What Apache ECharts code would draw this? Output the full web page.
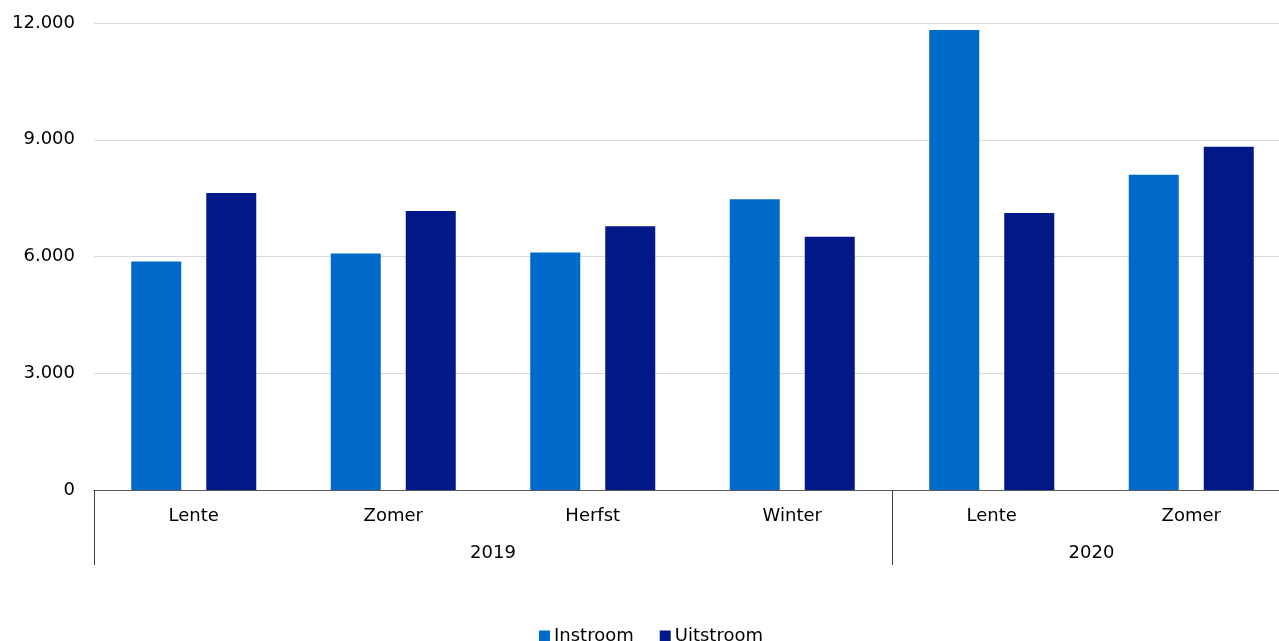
<!DOCTYPE html>
<html>
<head>
<meta charset="utf-8">
<script src="https://cdn.jsdelivr.net/npm/echarts@6/dist/echarts.min.js"></script>
<style>
html,body{margin:0;padding:0;background:#fff;}
#chart{width:1279px;height:641px;}
</style>
</head>
<body>
<div id="chart"></div>
<script>
const seasons = ['Lente', 'Zomer', 'Herfst', 'Winter', 'Lente', 'Zomer'];
const years = ['2019', '2020'];
const yearSpans = [4, 2];
const instroom = [5870, 6080, 6100, 7470, 11820, 8100];
const uitstroom = [7630, 7170, 6780, 6510, 7120, 8820];
const yTicks = [0, 3000, 6000, 9000, 12000];

// build the half-category slots for the year axis (boundaries and centres)
const yearSlots = [];
const yearBoundaries = [0];
let pos = 0;
years.forEach((y, i) => {
  pos += yearSpans[i];
  yearBoundaries.push(pos * 2);
});
for (let i = 0; i <= pos * 2; i++) yearSlots.push('');
pos = 0;
years.forEach((y, i) => {
  yearSlots[pos * 2 + yearSpans[i]] = y;
  pos += yearSpans[i];
});

const FONT = 'Verdana, "DejaVu Sans", sans-serif';
const chart = echarts.init(document.getElementById('chart'));
chart.setOption({
  animation: false,
  textStyle: { fontFamily: FONT },
  grid: { left: 94, top: 23, width: 1197, height: 467, containLabel: false, outerBoundsMode: 'none' },
  legend: {
    data: ['Instroom', 'Uitstroom'],
    left: 539,
    top: 627,
    padding: 0,
    itemWidth: 11,
    itemHeight: 11,
    itemGap: 26,
    icon: 'rect',
    textStyle: { fontSize: 18, color: '#000', fontFamily: FONT, padding: [0, 0, 0, -1] }
  },
  xAxis: [
    {
      type: 'category',
      data: seasons,
      position: 'bottom',
      boundaryGap: true,
      axisLine: { show: true, lineStyle: { color: '#595959', width: 1 } },
      axisTick: { show: false },
      axisLabel: { fontSize: 18, color: '#000', margin: 17, fontFamily: FONT, interval: 0 },
      splitLine: { show: false }
    },
    {
      type: 'category',
      data: yearSlots,
      position: 'bottom',
      boundaryGap: false,
      axisLine: { show: false },
      axisTick: {
        show: true,
        length: 75,
        interval: function (index) { return yearBoundaries.indexOf(index) >= 0; },
        lineStyle: { color: '#404040', width: 1 }
      },
      axisLabel: {
        fontSize: 18, color: '#000', margin: 54, fontFamily: FONT, interval: 0,
        showMinLabel: true, showMaxLabel: true
      },
      splitLine: { show: false }
    }
  ],
  yAxis: {
    type: 'value',
    min: yTicks[0],
    max: yTicks[yTicks.length - 1],
    interval: yTicks[1] - yTicks[0],
    axisLine: { show: false },
    axisTick: { show: false },
    axisLabel: {
      fontSize: 18, color: '#000', margin: 19, fontFamily: FONT,
      formatter: v => String(v).replace(/\B(?=(\d{3})+(?!\d))/g, '.')
    },
    splitLine: { show: true, lineStyle: { color: '#D9D9D9', width: 1 } }
  },
  series: [
    {
      name: 'Instroom', type: 'bar', data: instroom, xAxisIndex: 0,
      barWidth: 50, barGap: '50%',
      itemStyle: { color: '#006ACB' }
    },
    {
      name: 'Uitstroom', type: 'bar', data: uitstroom, xAxisIndex: 0,
      barWidth: 50, barGap: '50%',
      itemStyle: { color: '#001888' }
    }
  ]
});
</script>
</body>
</html>
